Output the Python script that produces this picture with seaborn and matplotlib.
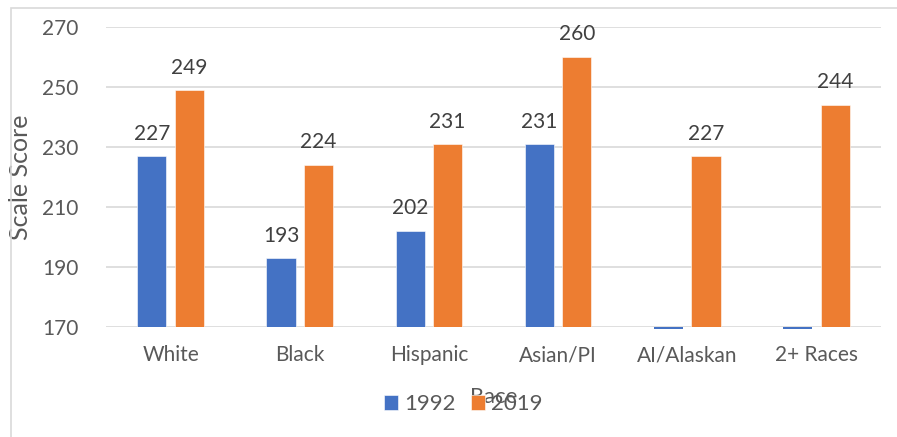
import numpy as np
import pandas as pd
import matplotlib
matplotlib.use("Agg")
import matplotlib.pyplot as plt
from matplotlib.patches import Rectangle
import seaborn as sns

# Average scale scores by race, 1992 vs 2019 (0 = not reported in 1992)
races = ["White", "Black", "Hispanic", "Asian/PI", "AI/Alaskan", "2+ Races"]
scores_1992 = [227, 193, 202, 231, 0, 0]
scores_2019 = [249, 224, 231, 260, 227, 244]
years = ["1992", "2019"]
y_ticks = [170, 190, 210, 230, 250, 270]

df = pd.DataFrame({
    "Race": races * 2,
    "Year": [years[0]] * len(races) + [years[1]] * len(races),
    "Score": scores_1992 + scores_2019,
})

sns.set_theme(style="white")
plt.rcParams["font.family"] = ["Lato", "DejaVu Sans"]

TEXT = "#595959"
LABEL = "#404040"
FS = 15
palette = {"1992": "#4472C4", "2019": "#ED7D31"}

fig = plt.figure(figsize=(8.97, 4.37), dpi=100)
ax = fig.add_axes([106 / 897, 1 - 327 / 437, 775 / 897, 300 / 437])

sns.barplot(data=df, x="Race", y="Score", hue="Year", order=races,
            hue_order=years, palette=palette, width=0.58, gap=0.22,
            saturation=1, edgecolor="white", linewidth=0.4, ax=ax,
            legend=True)

ax.set_ylim(y_ticks[0], y_ticks[-1])
ax.set_yticks(y_ticks)
ymin = y_ticks[0]

# Value labels above bars that reach the plotted range
for cont in ax.containers:
    vals = cont.datavalues
    labels = [f"{v:.0f}" if v >= ymin else "" for v in vals]
    ax.bar_label(cont, labels=labels, padding=9, fontsize=FS, color=LABEL)

# Unreported values sit as a hairline on the axis floor
for p in ax.patches:
    if p.get_height() < ymin and p.get_width() > 0:
        p.set_y(ymin - 0.5)
        p.set_height(0.4)
        p.set_edgecolor(p.get_facecolor())
        p.set_linewidth(0)
        p.set_clip_on(False)
        p.set_zorder(3)

ax.grid(axis="y", color="#D9D9D9", linewidth=1.2)
ax.set_axisbelow(True)
for s in ax.spines.values():
    s.set_visible(False)

ax.tick_params(axis="both", length=0, labelsize=FS, labelcolor=TEXT)
ax.tick_params(axis="x", pad=13)
ax.tick_params(axis="y", pad=20)

ax.set_xlabel("Race", fontsize=FS + 1, color=TEXT)
ax.xaxis.set_label_coords(0.5, -60 / 300)
ax.set_ylabel("Scale Score", fontsize=18, color=TEXT)
ax.yaxis.set_label_coords(-0.096, 0.5)

leg = ax.legend(loc="center", bbox_to_anchor=(463 / 897, 1 - 404 / 437),
                bbox_transform=fig.transFigure, ncol=2, frameon=False,
                fontsize=FS + 1, handlelength=0.65, handleheight=0.65,
                handletextpad=0.25, columnspacing=0.7, labelcolor=TEXT)
leg.set_zorder(5)

# Chart frame
fig.patches.append(Rectangle((11 / 897, -0.01), 895 / 897, 1 - 8 / 437 + 0.01,
                             transform=fig.transFigure, fill=False,
                             edgecolor="#D9D9D9", linewidth=1.2))

fig.savefig("out.png", dpi=100)
